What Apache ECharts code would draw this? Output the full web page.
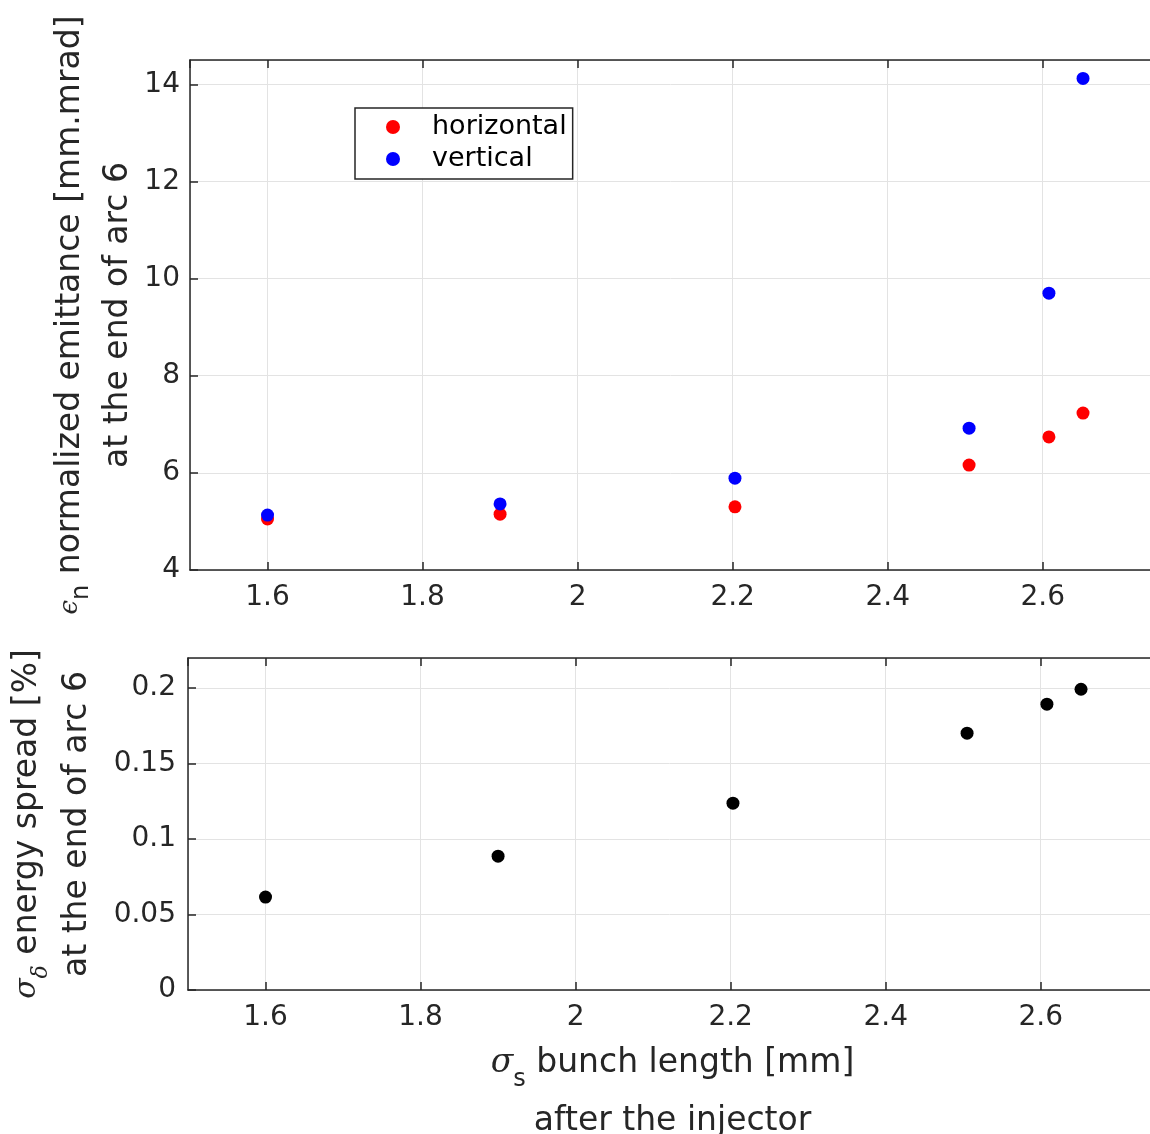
<!DOCTYPE html>
<html><head><meta charset="utf-8">
<script src="https://cdn.jsdelivr.net/npm/echarts@6/dist/echarts.min.js"></script>
<style>html,body{margin:0;padding:0;background:#fff}#c{width:1150px;height:1134px}</style>
</head><body><div id="c"></div>
<script>
const bunchLength = [1.6, 1.9, 2.203, 2.505, 2.608, 2.652];
const emitHorizontal = [5.05, 5.15, 5.30, 6.16, 6.74, 7.23];
const emitVertical = [5.13, 5.36, 5.89, 6.92, 9.70, 14.12];
const energySpread = [0.0616, 0.0887, 0.1238, 0.1702, 0.1894, 0.1993];
const seriesNames = ['horizontal', 'vertical'];

const pairs = (xs, ys) => xs.map((x, i) => [x, ys[i]]);
const FONT = 'DejaVu Sans';
const TXT = '#262626';
const AX = { lineStyle: { color: '#262626', width: 1.5 } };

function xAxisBottom(grid, withName) {
  const a = {
    type: 'value', gridIndex: grid, min: 1.5, max: 2.75, minInterval: 0.2, maxInterval: 0.2,
    axisLine: Object.assign({ show: true, onZero: false }, AX),
    axisTick: { show: true, inside: true, length: 8, lineStyle: { color: '#262626', width: 1.5 } },
    axisLabel: { show: true, margin: 14, fontSize: 28, fontFamily: FONT, color: TXT, showMinLabel: false, showMaxLabel: false },
    splitLine: { show: true, lineStyle: { color: '#e3e3e3', width: 1 } }
  };
  if (withName) {
    a.name = '{sig|σ}{sub|s} bunch length [mm]\nafter the injector';
    a.nameLocation = 'middle';
    a.nameGap = 44;
    a.nameTextStyle = {
      fontSize: 33, fontFamily: FONT, color: TXT, lineHeight: 58,
      rich: {
        sig: { fontSize: 33, fontFamily: 'DejaVu Serif', fontStyle: 'italic', color: TXT, lineHeight: 58 },
        sub: { fontSize: 24, fontFamily: FONT, color: TXT, verticalAlign: 'bottom', lineHeight: 58 }
      }
    };
  }
  return a;
}
function xAxisTop(grid) {
  return {
    type: 'value', gridIndex: grid, position: 'top', min: 1.5, max: 2.75, minInterval: 0.2, maxInterval: 0.2,
    axisLine: Object.assign({ show: true, onZero: false }, AX),
    axisTick: { show: true, inside: true, length: 8, lineStyle: { color: '#262626', width: 1.5 } },
    axisLabel: { show: false }, splitLine: { show: false }
  };
}

const option = {
  animation: false,
  backgroundColor: '#ffffff',
  grid: [
    { left: 190, top: 60, width: 969, height: 510, outerBoundsMode: 'none', containLabel: false },
    { left: 188, top: 658, width: 969, height: 332, outerBoundsMode: 'none', containLabel: false }
  ],
  legend: {
    data: seriesNames, orient: 'vertical', left: 355, top: 108,
    backgroundColor: '#ffffff', borderColor: '#262626', borderWidth: 1.5,
    padding: [5, 6, 6, 31], itemWidth: 68, itemHeight: 14, itemGap: 4,
    icon: 'circle',
    textStyle: { fontSize: 27, fontFamily: FONT, color: '#000', lineHeight: 28 }
  },
  xAxis: [xAxisBottom(0, false), xAxisTop(0), xAxisBottom(1, true), xAxisTop(1)],
  yAxis: [
    {
      type: 'value', gridIndex: 0, min: 4, max: 14.5, interval: 2,
      axisLine: Object.assign({ show: true, onZero: false }, AX),
      axisTick: { show: true, inside: true, length: 8, lineStyle: { color: '#262626', width: 1.5 } },
      axisLabel: { margin: 10, fontSize: 28, fontFamily: FONT, color: TXT, showMaxLabel: false },
      splitLine: { show: true, lineStyle: { color: '#e3e3e3', width: 1 } },
      name: '{eps|ϵ}{sub|n} normalized emittance [mm.mrad]\nat the end of arc 6',
      nameLocation: 'middle', nameRotate: 90, nameGap: 48, nameMoveOverlap: false,
      nameTextStyle: {
        fontSize: 33, fontFamily: FONT, color: TXT, lineHeight: 48,
        rich: {
          eps: { fontSize: 26, fontFamily: 'DejaVu Serif', fontStyle: 'italic', color: TXT, lineHeight: 48 },
          sub: { fontSize: 24, fontFamily: FONT, color: TXT, verticalAlign: 'bottom', lineHeight: 48 }
        }
      }
    },
    {
      type: 'value', gridIndex: 1, min: 0, max: 0.22, interval: 0.05,
      axisLine: Object.assign({ show: true, onZero: false }, AX),
      axisTick: { show: true, inside: true, length: 8, lineStyle: { color: '#262626', width: 1.5 } },
      axisLabel: { margin: 12, fontSize: 28, fontFamily: FONT, color: TXT, showMaxLabel: false },
      splitLine: { show: true, lineStyle: { color: '#e3e3e3', width: 1 } },
      name: '{sig|σ}{sub|δ} energy spread [%]\nat the end of arc 6',
      nameLocation: 'middle', nameRotate: 90, nameGap: 86, nameMoveOverlap: false,
      nameTextStyle: {
        fontSize: 33, fontFamily: FONT, color: TXT, lineHeight: 50,
        rich: {
          sig: { fontSize: 30, fontFamily: 'DejaVu Serif', fontStyle: 'italic', color: TXT, lineHeight: 50 },
          sub: { fontSize: 22, fontFamily: 'DejaVu Serif', fontStyle: 'italic', color: TXT, verticalAlign: 'bottom', lineHeight: 50 }
        }
      }
    }
  ],
  series: [
    { name: seriesNames[0], type: 'scatter', xAxisIndex: 0, yAxisIndex: 0, symbol: 'circle', symbolSize: 13,
      itemStyle: { color: '#ff0000', opacity: 1 }, data: pairs(bunchLength, emitHorizontal), z: 2 },
    { name: seriesNames[1], type: 'scatter', xAxisIndex: 0, yAxisIndex: 0, symbol: 'circle', symbolSize: 13,
      itemStyle: { color: '#0000ff', opacity: 1 }, data: pairs(bunchLength, emitVertical), z: 3 },
    { name: 'energy spread', type: 'scatter', xAxisIndex: 2, yAxisIndex: 1, symbol: 'circle', symbolSize: 13,
      itemStyle: { color: '#000000', opacity: 1 }, data: pairs(bunchLength, energySpread) }
  ]
};
const chart = echarts.init(document.getElementById('c'), null, { renderer: 'canvas' });
chart.setOption(option);
</script>
</body></html>
